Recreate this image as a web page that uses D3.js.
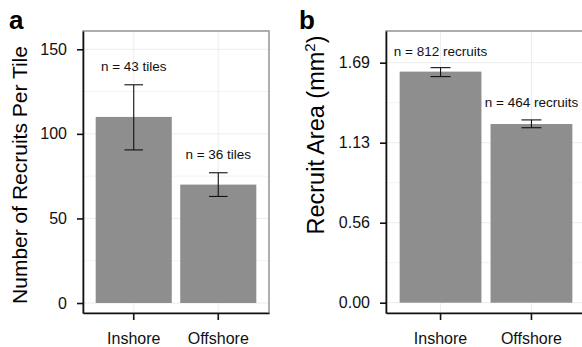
<!DOCTYPE html>
<html>
<head>
<meta charset="utf-8">
<script src="https://cdn.jsdelivr.net/npm/d3@7"></script>
<style>
  body { margin: 0; background: #fff; }
  svg { display: block; font-family: "Liberation Sans", Arial, sans-serif; }
  .axis text { font-size: 16px; fill: #111; }
  .axis line, .axis path { stroke: #111; stroke-width: 1.6; }
  .grid line { stroke: #ececec; stroke-width: 1; }
  .grid .minor { stroke: #f3f3f3; }
  .n-label { font-size: 13.5px; fill: #111; text-anchor: middle; }
  .panel-tag { font-size: 26px; font-weight: bold; fill: #000; }
  .y-title { fill: #000; text-anchor: middle; }
</style>
</head>
<body>
<div id="chart"></div>
<script>
// shared categories
const categories = ['Inshore', 'Offshore'];

// panel a: recruits per tile
const recruitsMean = [110, 70];
const recruitsLow = [90.5, 63];
const recruitsHigh = [129, 77];
const recruitsN = ['n = 43 tiles', 'n = 36 tiles'];
const recruitsNY = [140, 88];
const recruitsTicks = [0, 50, 100, 150];
const recruitsTickLabels = ['0', '50', '100', '150'];
const recruitsLimits = [-5.9, 160.8];

// panel b: recruit area
const areaMean = [1.627, 1.258];
const areaLow = [1.592, 1.232];
const areaHigh = [1.655, 1.287];
const areaN = ['n = 812 recruits', 'n = 464 recruits'];
const areaNY = [1.77, 1.41];
const areaTicks = [0, 0.5633, 1.1267, 1.69];
const areaTickLabels = ['0.00', '0.56', '1.13', '1.69'];
const areaLimits = [-0.0725, 1.913];

const svg = d3.select('#chart').append('svg')
    .attr('width', 582)
    .attr('height', 347);

class BarPanel {
    constructor(_config) {
        this.config = _config;
        this.initVis();
    }

    initVis() {
        let vis = this;
        const c = vis.config;

        vis.g = svg.append('g');

        vis.xScale = d3.scaleBand()
            .domain(categories)
            .range([c.left, c.right])
            .paddingInner(0.1)
            .paddingOuter(0.15);

        vis.yScale = d3.scaleLinear()
            .domain(c.limits)
            .range([c.bottom, c.top]);

        // minor breaks halfway between the major ones
        const minor = d3.pairs(c.ticks).map(([a, b]) => (a + b) / 2)
            .concat([c.ticks[c.ticks.length - 1] + (c.ticks[1] - c.ticks[0]) / 2])
            .filter(v => v < c.limits[1]);

        const grid = vis.g.append('g').attr('class', 'grid');
        grid.selectAll('.minor').data(minor).join('line')
            .attr('class', 'minor')
            .attr('x1', c.left).attr('x2', c.right)
            .attr('y1', d => vis.yScale(d)).attr('y2', d => vis.yScale(d));
        grid.selectAll('.major').data(c.ticks).join('line')
            .attr('class', 'major')
            .attr('x1', c.left).attr('x2', c.right)
            .attr('y1', d => vis.yScale(d)).attr('y2', d => vis.yScale(d));
        grid.selectAll('.vert').data(categories).join('line')
            .attr('class', 'vert')
            .attr('x1', d => vis.xScale(d) + vis.xScale.bandwidth() / 2)
            .attr('x2', d => vis.xScale(d) + vis.xScale.bandwidth() / 2)
            .attr('y1', c.top).attr('y2', c.bottom);

        // panel border (top/right grey)
        vis.g.append('rect')
            .attr('x', c.left).attr('y', c.top)
            .attr('width', c.right - c.left).attr('height', c.bottom - c.top)
            .attr('fill', 'none')
            .attr('stroke', '#9a9a9a')
            .attr('stroke-width', 1.6);

        vis.g.selectAll('.bar').data(categories).join('rect')
            .attr('class', 'bar')
            .attr('x', d => vis.xScale(d))
            .attr('width', vis.xScale.bandwidth())
            .attr('y', (d, i) => vis.yScale(c.mean[i]))
            .attr('height', (d, i) => vis.yScale(0) - vis.yScale(c.mean[i]))
            .attr('fill', '#8e8e8e');

        // error bars
        const capW = vis.xScale.step() * 0.22;
        const err = vis.g.selectAll('.err').data(categories).join('g')
            .attr('class', 'err')
            .attr('transform', d => `translate(${vis.xScale(d) + vis.xScale.bandwidth() / 2},0)`)
            .attr('stroke', '#111')
            .attr('stroke-width', 1.1);
        err.append('line')
            .attr('y1', (d, i) => vis.yScale(c.low[i]))
            .attr('y2', (d, i) => vis.yScale(c.high[i]));
        err.append('line')
            .attr('x1', -capW / 2).attr('x2', capW / 2)
            .attr('y1', (d, i) => vis.yScale(c.high[i]))
            .attr('y2', (d, i) => vis.yScale(c.high[i]));
        err.append('line')
            .attr('x1', -capW / 2).attr('x2', capW / 2)
            .attr('y1', (d, i) => vis.yScale(c.low[i]))
            .attr('y2', (d, i) => vis.yScale(c.low[i]));

        vis.g.selectAll('.n-label').data(categories).join('text')
            .attr('class', 'n-label')
            .attr('x', d => vis.xScale(d) + vis.xScale.bandwidth() / 2)
            .attr('y', (d, i) => vis.yScale(c.nY[i]))
            .attr('dy', '0.36em')
            .text((d, i) => c.nText[i]);

        vis.g.append('g')
            .attr('class', 'axis y-axis')
            .attr('transform', `translate(${c.left},0)`)
            .call(d3.axisLeft(vis.yScale)
                .tickValues(c.ticks)
                .tickFormat((d, i) => c.tickLabels[i])
                .tickSize(6)
                .tickSizeOuter(0)
                .tickPadding(10));

        vis.g.append('g')
            .attr('class', 'axis x-axis')
            .attr('transform', `translate(0,${c.bottom})`)
            .call(d3.axisBottom(vis.xScale)
                .tickSize(7)
                .tickSizeOuter(0)
                .tickPadding(13));

        vis.g.selectAll('.axis').attr('font-family', null).attr('font-size', null);

        vis.g.append('text')
            .attr('class', 'y-title')
            .attr('font-size', c.titleSize)
            .attr('transform', `translate(${c.titleX},${c.titleY}) rotate(-90)`)
            .html(c.title);

        vis.g.append('text')
            .attr('class', 'panel-tag')
            .attr('x', c.tagX)
            .attr('y', 29)
            .text(c.tag);
    }
}

new BarPanel({
    left: 83, right: 269, top: 31, bottom: 313,
    limits: recruitsLimits, ticks: recruitsTicks, tickLabels: recruitsTickLabels,
    mean: recruitsMean, low: recruitsLow, high: recruitsHigh,
    nText: recruitsN, nY: recruitsNY,
    title: 'Number of Recruits Per Tile', titleSize: '21px', titleX: 27, titleY: 175,
    tag: 'a', tagX: 9
});

new BarPanel({
    left: 386, right: 586, top: 31, bottom: 313,
    limits: areaLimits, ticks: areaTicks, tickLabels: areaTickLabels,
    mean: areaMean, low: areaLow, high: areaHigh,
    nText: areaN, nY: areaNY,
    title: 'Recruit Area (mm<tspan dy="-9" font-size="15px">2</tspan><tspan dy="9">)</tspan>', titleSize: '23.5px', titleX: 324, titleY: 135,
    tag: 'b', tagX: 299
});
</script>
</body>
</html>
